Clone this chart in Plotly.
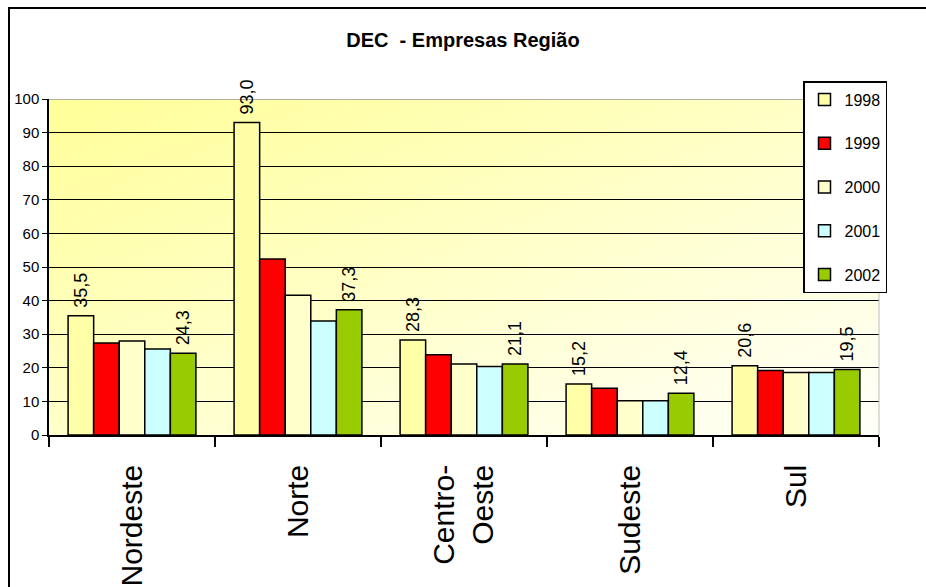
import base64
import plotly.graph_objects as go

categories = ["Nordeste", "Norte", "Centro-<br>Oeste", "Sudeste", "Sul"]
years = ["1998", "1999", "2000", "2001", "2002"]
v1998 = [35.5, 93.0, 28.3, 15.2, 20.6]
v1999 = [27.4, 52.4, 23.9, 13.9, 19.2]
v2000 = [28.0, 41.6, 21.1, 10.2, 18.6]
v2001 = [25.6, 33.9, 20.4, 10.2, 18.6]
v2002 = [24.3, 37.3, 21.1, 12.4, 19.5]
series = [v1998, v1999, v2000, v2001, v2002]
colors = ["#FFFFA8", "#FF0000", "#FFFFCC", "#CCFFFF", "#99CC00"]
labeled = [True, False, False, False, True]
yticks = list(range(0, 101, 10))

FONT = "Arial, Liberation Sans, sans-serif"

fig = go.Figure()
for name, vals, col, lab in zip(years, series, colors, labeled):
    fig.add_trace(go.Bar(
        x=categories, y=vals, name=name, legendgroup=name,
        marker=dict(color=col, line=dict(color="black", width=1.5)),
        texttemplate="\u00a0%{y:.1f}" if lab else None,
        textposition="outside" if lab else "none",
        textangle=-90,
        constraintext="none",
        textfont=dict(family=FONT, size=18, color="black"),
        cliponaxis=False,
    ))

svg = ('<svg xmlns="http://www.w3.org/2000/svg" width="100" height="100" preserveAspectRatio="none">'
       '<defs><linearGradient id="g" x1="0" y1="0" x2="1" y2="1">'
       '<stop offset="0" stop-color="#FFFF99"/><stop offset="1" stop-color="#FFFFFA"/>'
       '</linearGradient></defs><rect width="100" height="100" fill="url(#g)"/></svg>')
src = "data:image/svg+xml;base64," + base64.b64encode(svg.encode()).decode()

fig.update_layout(
    width=926, height=587,
    margin=dict(l=49, r=47, t=99, b=152),
    paper_bgcolor="white",
    plot_bgcolor="rgba(0,0,0,0)",
    separators=",.",
    barmode="group", bargap=0.23, bargroupgap=0,
    font=dict(family=FONT, color="black"),
    title=dict(text="<b>DEC  - Empresas Região</b>", x=0.5, xanchor="center",
               y=1 - 40 / 587, yanchor="middle", font=dict(size=20, family=FONT)),
    images=[dict(source=src, xref="paper", yref="paper", x=0, y=1, sizex=1, sizey=1,
                 sizing="stretch", layer="below", xanchor="left", yanchor="top")],
    legend=dict(x=(803 - 49) / 830, y=(435 - 81) / 336, xanchor="left", yanchor="top",
                bgcolor="white", bordercolor="black", borderwidth=1.5,
                font=dict(size=16, family=FONT), tracegroupgap=20,
                itemwidth=30),
    showlegend=True,
)
fig.update_yaxes(range=[0, 100], tickvals=yticks, showgrid=True, gridcolor="black",
                 gridwidth=1.3, showline=True, linecolor="black", linewidth=1.5,
                 ticks="outside", ticklen=5, tickcolor="black", automargin=False,
                 tickfont=dict(size=15, family=FONT), zeroline=False)
fig.update_xaxes(showline=True, linecolor="black", linewidth=1.5, ticks="outside",
                 tickson="boundaries", ticklen=10, tickcolor="black", tickwidth=1.5,
                 tickangle=-90, tickfont=dict(size=30, family=FONT),
                 ticklabelstandoff=16, automargin=False)

fig.add_shape(type="line", xref="paper", yref="y", x0=0, x1=1, y0=100, y1=100,
              line=dict(color="#999999", width=1.5), layer="between")
fig.add_shape(type="line", xref="paper", yref="paper", x0=1, x1=1, y0=0, y1=1,
              line=dict(color="#BBBBBB", width=1), layer="above")
fig.add_shape(type="rect", xref="paper", yref="paper", x0=(9 - 49) / 830, x1=1.2,
              y0=-0.6, y1=(435 - 8) / 336, line=dict(color="black", width=2),
              fillcolor="rgba(0,0,0,0)", layer="above")

fig.write_html("out.html")
